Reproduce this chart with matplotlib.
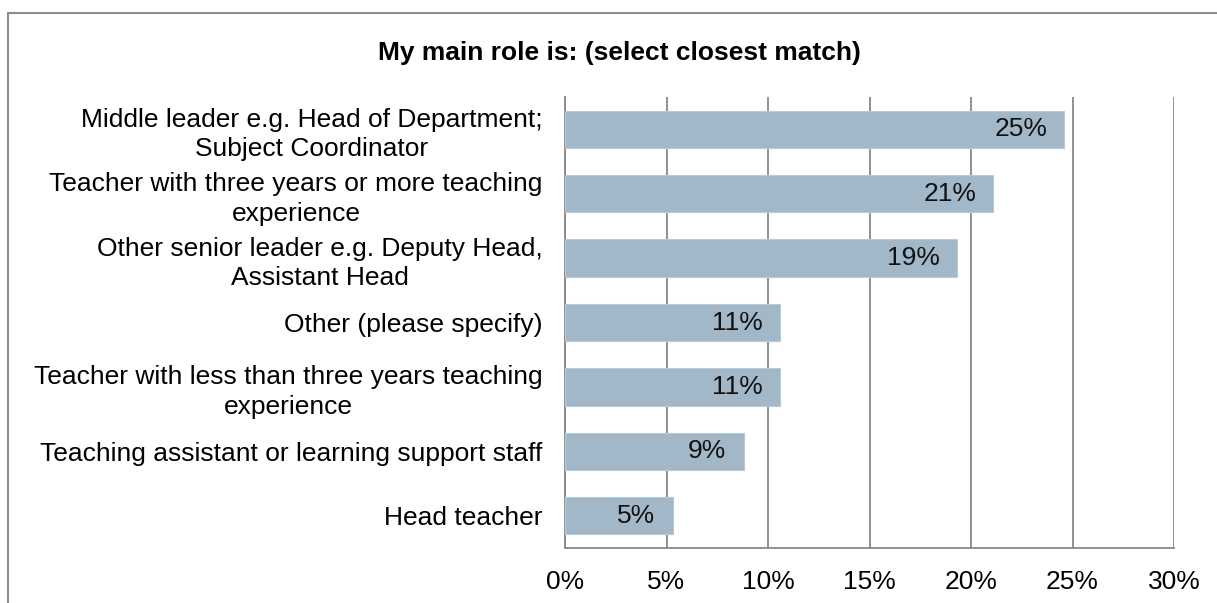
import matplotlib
matplotlib.use("Agg")
import matplotlib.pyplot as plt
from matplotlib.patches import Rectangle

categories = [
    "Middle leader e.g. Head of Department;\nSubject Coordinator",
    "Teacher with three years or more teaching\nexperience",
    "Other senior leader e.g. Deputy Head,\nAssistant Head",
    "Other (please specify)",
    "Teacher with less than three years teaching\nexperience",
    "Teaching assistant or learning support staff",
    "Head teacher",
]
values = [24.6, 21.1, 19.3, 10.6, 10.6, 8.8, 5.3]
value_labels = ["25%", "21%", "19%", "11%", "11%", "9%", "5%"]
xticks = [0, 5, 10, 15, 20, 25, 30]
xtick_labels = ["0%", "5%", "10%", "15%", "20%", "25%", "30%"]
title = "My main role is: (select closest match)"

plt.rcParams['font.family'] = ['Liberation Sans', 'DejaVu Sans']
W, H = 1217, 603
fig = plt.figure(figsize=(W / 100, H / 100), dpi=100)
fig.patch.set_facecolor('white')

# outer chart border (cropped)
fig.add_artist(Rectangle((8 / W, -0.1), 1.2, 1 - 13 / H + 0.1, transform=fig.transFigure,
                         fill=False, edgecolor='#8c8c8c', linewidth=1.5))

ax = fig.add_axes([565 / W, 1 - 548 / H, (1174 - 565) / W, (548 - 97) / H])
grid_c = '#878787'
bar_c = '#a2b8c8'
fs = 19
y = list(range(len(categories)))
ax.barh(y, values, height=0.58, color=bar_c, edgecolor='#b8cad6', linewidth=0.8, zorder=3)
for yi, v, lab in zip(y, values, value_labels):
    ax.text(v - 0.85, yi, lab, ha='right', va='center', fontsize=fs, color='#111111', zorder=4)

ax.set_xlim(0, 30)
ax.set_ylim(len(categories) - 0.5, -0.5)
ax.set_xticks(xticks)
ax.set_xticklabels(xtick_labels, fontsize=fs)
ax.set_yticks(y)
ax.set_yticklabels(categories, fontsize=fs, linespacing=1.3)
ax.tick_params(axis='both', length=0)
ax.tick_params(axis='x', pad=16)
ax.tick_params(axis='y', pad=16)
for lbl in ax.get_yticklabels():
    lbl.set_horizontalalignment('right')
    lbl.set_multialignment('center')
ax.xaxis.grid(True, color=grid_c, linewidth=1.3, zorder=0)
ax.set_axisbelow(True)
for s in ['top', 'right']:
    ax.spines[s].set_visible(False)
for s in ['left', 'bottom']:
    ax.spines[s].set_color(grid_c)
    ax.spines[s].set_linewidth(1.3)

fig.text(619 / W, 1 - 53 / H, title, ha='center', va='center', fontsize=fs, fontweight='bold')

fig.savefig('out.png', dpi=100, facecolor='white')
